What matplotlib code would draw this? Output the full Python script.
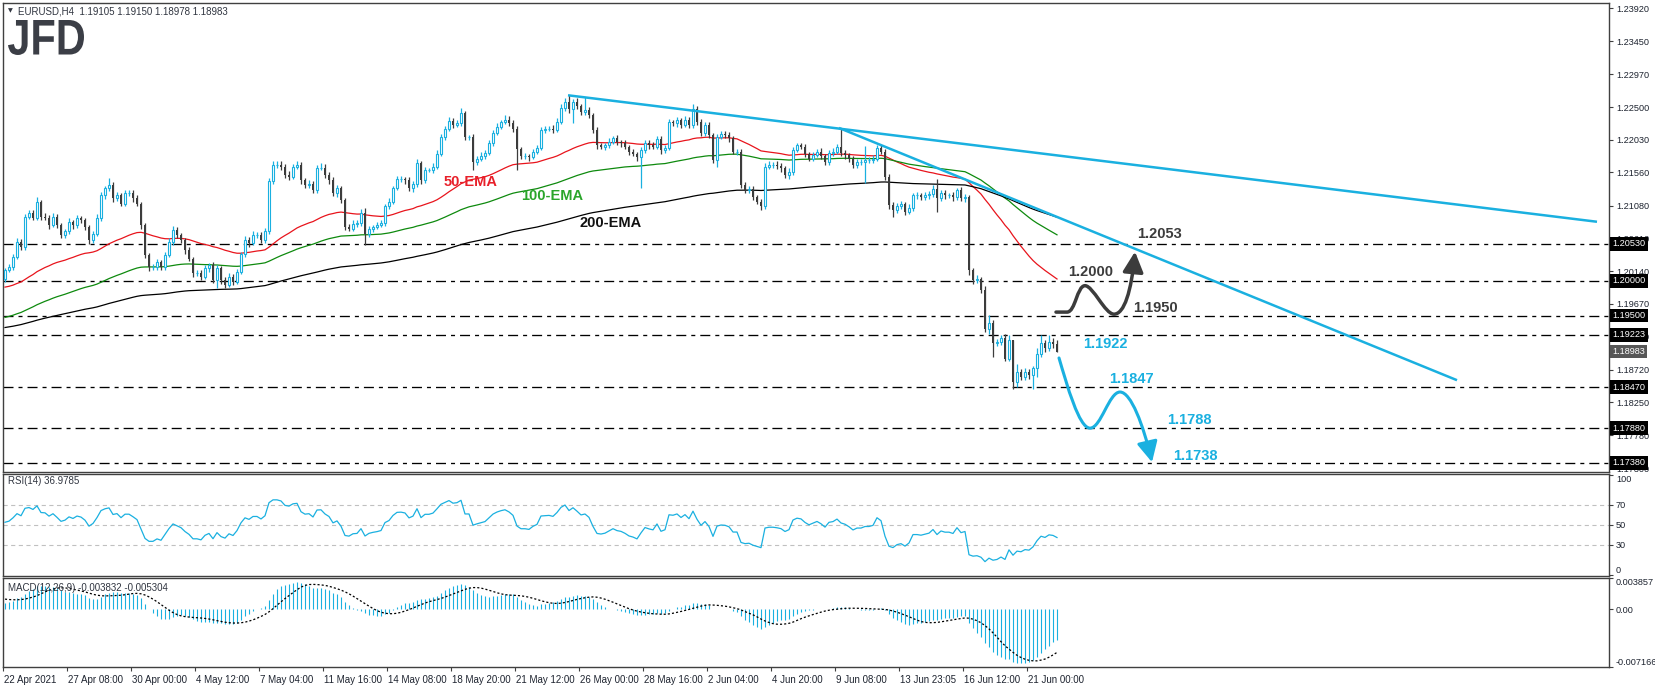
import matplotlib
matplotlib.use("Agg")
import numpy as np
import matplotlib.pyplot as plt
import matplotlib.transforms as mtransforms
from matplotlib.path import Path
from matplotlib.patches import FancyArrowPatch, PathPatch
from matplotlib.textpath import TextPath
from matplotlib.font_manager import FontProperties

plt.rcParams["font.family"] = ["Liberation Sans", "DejaVu Sans"]
plt.rcParams["lines.scale_dashes"] = False

# ---- data (EURUSD H4) ----
first_open = 1.2003
closes = [
    1.2015, 1.2020, 1.2035, 1.2056, 1.2049, 1.2092, 1.2097, 1.2091, 1.2114, 1.2092,
    1.2091, 1.2080, 1.2092, 1.2080, 1.2066, 1.2071, 1.2085, 1.2080, 1.2090, 1.2087,
    1.2078, 1.2059, 1.2068, 1.2090, 1.2123, 1.2133, 1.2138, 1.2119, 1.2123, 1.2111,
    1.2126, 1.2126, 1.2119, 1.2111, 1.2080, 1.2037, 1.2020, 1.2020, 1.2027, 1.2020,
    1.2037, 1.2056, 1.2073, 1.2066, 1.2059, 1.2044, 1.2032, 1.2011, 1.2011, 1.2006,
    1.2018, 1.2023, 1.2001, 1.2018, 1.2001, 1.1994, 1.2006, 1.1999, 1.2013, 1.2039,
    1.2059, 1.2054, 1.2066, 1.2066, 1.2059, 1.2071, 1.2143, 1.2167, 1.2167, 1.2164,
    1.2152, 1.2150, 1.2164, 1.2167, 1.2145, 1.2138, 1.2140, 1.2131, 1.2162, 1.2163,
    1.2152, 1.2145, 1.2126, 1.2133, 1.2116, 1.2078, 1.2075, 1.2082, 1.2083, 1.2097,
    1.2067, 1.2075, 1.2078, 1.2080, 1.2083, 1.2107, 1.2114, 1.2133, 1.2146, 1.2147,
    1.2145, 1.2133, 1.2139, 1.2169, 1.2145, 1.2159, 1.2159, 1.2164, 1.2183, 1.2207,
    1.2218, 1.2230, 1.2224, 1.2227, 1.2241, 1.2207, 1.2207, 1.2171, 1.2176, 1.2180,
    1.2184, 1.2198, 1.2213, 1.2222, 1.2228, 1.2232, 1.2227, 1.2219, 1.2189, 1.2180,
    1.2180, 1.2178, 1.2186, 1.2191, 1.2217, 1.2218, 1.2219, 1.2217, 1.2229, 1.2248,
    1.2258, 1.2247, 1.2258, 1.2251, 1.2243, 1.2246, 1.2239, 1.2217, 1.2195, 1.2193,
    1.2195, 1.2200, 1.2205, 1.2200, 1.2198, 1.2193, 1.2186, 1.2183, 1.2178, 1.2188,
    1.2198, 1.2195, 1.2193, 1.2204, 1.2188, 1.2191, 1.2228, 1.2227, 1.2231, 1.2224,
    1.2232, 1.2224, 1.2247, 1.2229, 1.2213, 1.2224, 1.2210, 1.2174, 1.2207, 1.2211,
    1.2210, 1.2205, 1.2186, 1.2186, 1.2138, 1.2131, 1.2132, 1.2121, 1.2114, 1.2107,
    1.2164, 1.2167, 1.2167, 1.2165, 1.2162, 1.2152, 1.2157, 1.2188, 1.2195, 1.2193,
    1.2183, 1.2176, 1.2181, 1.2186, 1.2180, 1.2171, 1.2184, 1.2186, 1.2193, 1.2184,
    1.2181, 1.2175, 1.2167, 1.2171, 1.2171, 1.2174, 1.2174, 1.2176, 1.2191, 1.2186,
    1.2150, 1.2109, 1.2102, 1.2108, 1.2110, 1.2099, 1.2105, 1.2123, 1.2123, 1.2121,
    1.2123, 1.2125, 1.2132, 1.2119, 1.2126, 1.2123, 1.2123, 1.2120, 1.2130, 1.2119,
    1.2121, 1.2015, 1.2001, 1.2002, 1.1987, 1.1930, 1.1939, 1.1910, 1.1912, 1.1918,
    1.1888, 1.1915, 1.1855, 1.1869, 1.1862, 1.1869, 1.1864, 1.1874, 1.1894, 1.1910,
    1.1903, 1.1912, 1.1909, 1.18983,
]
# wick lengths beyond the body, in pips
upper_wick = [
    3, 4, 4, 5, 4, 4, 5, 5, 6, 3,
    5, 4, 5, 4, 3, 4, 5, 3, 5, 4,
    4, 3, 4, 6, 5, 4, 10, 4, 5, 4,
    5, 4, 4, 5, 3, 3, 3, 4, 4, 3,
    4, 5, 6, 4, 3, 3, 4, 3, 5, 4,
    5, 3, 4, 5, 3, 4, 5, 4, 4, 3,
    5, 4, 5, 4, 4, 5, 5, 6, 5, 5,
    4, 6, 4, 5, 4, 3, 5, 4, 5, 6,
    5, 4, 4, 5, 4, 3, 4, 5, 4, 6,
    8, 4, 3, 4, 5, 4, 5, 4, 5, 4,
    3, 4, 5, 6, 4, 5, 4, 5, 5, 4,
    5, 6, 4, 5, 7, 4, 3, 4, 4, 5,
    4, 5, 4, 5, 4, 6, 5, 4, 4, 3,
    4, 3, 4, 5, 4, 5, 4, 5, 5, 6,
    5, 9, 4, 5, 4, 19, 4, 3, 4, 3,
    4, 5, 4, 5, 3, 4, 3, 4, 3, 4,
    5, 4, 5, 4, 5, 4, 5, 4, 5, 4,
    5, 4, 8, 5, 4, 5, 4, 3, 5, 4,
    5, 4, 3, 4, 3, 4, 5, 4, 3, 4,
    5, 5, 4, 5, 4, 3, 5, 5, 4, 4,
    4, 3, 5, 4, 5, 3, 4, 5, 4, 26,
    4, 3, 4, 5, 4, 20, 4, 5, 5, 4,
    3, 4, 5, 4, 5, 4, 5, 4, 5, 4,
    5, 4, 6, 14, 4, 5, 4, 5, 4, 5,
    4, 3, 4, 6, 4, 5, 12, 4, 5, 4,
    6, 7, 0, 12, 4, 5, 4, 4, 9, 12,
    5, 10, 6, 6,
]
lower_wick = [
    4, 3, 4, 3, 5, 4, 3, 4, 3, 5,
    4, 5, 3, 4, 5, 4, 3, 5, 4, 4,
    5, 6, 4, 3, 4, 5, 4, 5, 4, 4,
    3, 4, 5, 4, 5, 4, 6, 4, 4, 5,
    4, 3, 4, 5, 4, 5, 4, 6, 4, 5,
    4, 5, 4, 12, 5, 4, 3, 5, 4, 3,
    4, 5, 3, 4, 5, 4, 4, 3, 4, 5,
    4, 5, 4, 3, 5, 4, 4, 5, 4, 3,
    4, 5, 4, 5, 4, 5, 4, 3, 4, 4,
    16, 4, 5, 4, 3, 4, 3, 4, 3, 4,
    5, 4, 5, 4, 5, 4, 3, 4, 3, 4,
    4, 3, 4, 3, 4, 5, 4, 12, 4, 3,
    4, 3, 4, 3, 4, 3, 4, 5, 29, 5,
    4, 5, 3, 4, 3, 4, 3, 4, 3, 4,
    4, 5, 20, 4, 5, 4, 5, 4, 5, 4,
    5, 4, 3, 4, 5, 4, 5, 4, 5, 45,
    4, 5, 4, 3, 5, 4, 3, 4, 5, 4,
    3, 4, 4, 5, 4, 4, 5, 4, 10, 3,
    4, 5, 4, 5, 4, 5, 4, 5, 4, 5,
    4, 3, 4, 4, 5, 4, 5, 4, 3, 4,
    5, 4, 4, 3, 5, 4, 5, 4, 3, 4,
    5, 4, 5, 4, 5, 30, 4, 5, 4, 3,
    5, 6, 10, 4, 5, 4, 3, 4, 5, 4,
    4, 5, 4, 20, 4, 5, 4, 5, 4, 4,
    5, 6, 5, 4, 5, 4, 6, 19, 4, 5,
    4, 4, 10, 8, 5, 4, 5, 19, 12, 4,
    5, 4, 5, 0,
]

# indicator starting values as seen at the left edge of the chart
ema_seeds = {50: 1.1990, 100: 1.1946, 200: 1.1932}
macd_seed_fast, macd_seed_slow = 1.2000, 1.1993
macd_seed_hist = [0.0013] * 8
rsi_seed_gain, rsi_seed_loss = 0.0008, 0.0008

levels = [1.2053, 1.2000, 1.1950, 1.19223, 1.1847, 1.1788, 1.1738]
level_labels = ["1.20530", "1.20000", "1.19500", "1.19223", "1.18470", "1.17880", "1.17380"]
last_price = 1.18983
price_ticks = [1.23920, 1.23450, 1.22970, 1.22500, 1.22030, 1.21560, 1.21080, 1.20610,
               1.20140, 1.19670, 1.19200, 1.18720, 1.18250, 1.17780, 1.17300]
date_labels = ["22 Apr 2021", "27 Apr 08:00", "30 Apr 00:00", "4 May 12:00", "7 May 04:00",
               "11 May 16:00", "14 May 08:00", "18 May 20:00", "21 May 12:00", "26 May 00:00",
               "28 May 16:00", "2 Jun 04:00", "4 Jun 20:00", "9 Jun 08:00", "13 Jun 23:05",
               "16 Jun 12:00", "21 Jun 00:00"]

# trendlines (bar index, price)
trend_long = ([140.75, 398.0], [1.2267, 1.2085])
trend_short = ([208.5, 363.0], [1.2220, 1.1857])

BLUE = "#1ab0e0"
DARK = "#3c3c3c"
LBL = 6.6

close = np.array(closes)
n = len(close)
opens = np.r_[first_open, close[:-1]]
high = np.maximum(opens, close) + np.array(upper_wick) * 0.0001
low = np.minimum(opens, close) - np.array(lower_wick) * 0.0001
x = np.arange(n)


def ema(vals, period, seed):
    k = 2.0 / (period + 1)
    out, e = [], seed
    for v in vals:
        e = e + k * (v - e)
        out.append(e)
    return np.array(out)


ema50 = ema(close, 50, ema_seeds[50])
ema100 = ema(close, 100, ema_seeds[100])
ema200 = ema(close, 200, ema_seeds[200])

macd = ema(close, 12, macd_seed_fast) - ema(close, 26, macd_seed_slow)
hist_all = np.r_[macd_seed_hist, macd]
signal = np.array([hist_all[i:i + 9].mean() for i in range(n)])

diff = np.diff(np.r_[first_open, close])
g, l = rsi_seed_gain, rsi_seed_loss
rsi = []
for d in diff:
    g = (g * 13 + max(d, 0)) / 14
    l = (l * 13 + max(-d, 0)) / 14
    rsi.append(100 - 100 / (1 + g / l))
rsi = np.array(rsi)

# ---- figure ----
W, H = 1655, 687
fig = plt.figure(figsize=(W / 100, H / 100), dpi=100)
fig.patch.set_facecolor("white")


def px_axes(x0, y0, x1, y1):
    return fig.add_axes([x0 / W, 1 - y1 / H, (x1 - x0) / W, (y1 - y0) / H])


ax = px_axes(3, 3, 1609, 472)
ax_rsi = px_axes(3, 474, 1609, 576)
ax_macd = px_axes(3, 578, 1609, 667)

for a in (ax, ax_rsi, ax_macd):
    a.set_xlim(-0.5, 401)
    for s in a.spines.values():
        s.set_color("#404040")
        s.set_linewidth(1)
    a.tick_params(axis="y", left=False, labelleft=False, right=True, labelright=True,
                  length=3, width=0.8, pad=2, labelsize=LBL, labelcolor="#1e2430", color="#404040")
    a.tick_params(axis="x", bottom=False, labelbottom=False)

# main panel
ax.set_ylim(1.17249, 1.23998)
ax.set_yticks(price_ticks)
ax.set_yticklabels([f"{t:.5f}" for t in price_ticks])

bull = close >= opens
ax.vlines(x[bull], low[bull], high[bull], color=BLUE, lw=0.9, zorder=3)
ax.vlines(x[~bull], low[~bull], high[~bull], color=DARK, lw=0.9, zorder=3)
ax.bar(x[bull], (close - opens)[bull], bottom=opens[bull], width=0.5,
       facecolor="white", edgecolor=BLUE, linewidth=0.8, zorder=4)
ax.bar(x[~bull], (opens - close)[~bull], bottom=close[~bull], width=0.72,
       color=DARK, linewidth=0, zorder=4)

ax.plot(x, ema50, color="#e8141c", lw=0.9, zorder=2)
ax.plot(x, ema100, color="#0e8a0e", lw=0.9, zorder=2)
ax.plot(x, ema200, color="black", lw=0.9, zorder=2)

for lv in levels:
    ax.axhline(lv, color="black", lw=0.95, linestyle=(0, (7.2, 3.6, 2.9, 3.6)), zorder=1)

ax.plot(*trend_long, color=BLUE, lw=1.8, zorder=5, solid_capstyle="butt")
ax.plot(*trend_short, color=BLUE, lw=1.8, zorder=5, solid_capstyle="butt")

ytr = mtransforms.blended_transform_factory(ax.transAxes, ax.transData)
for lv, lab in zip(levels, level_labels):
    ax.text(1.0021, lv, lab, transform=ytr, ha="left", va="center", fontsize=LBL, color="white",
            bbox=dict(boxstyle="square,pad=0.25", fc="black", ec="none"), zorder=10, clip_on=False)
ax.text(1.0021, last_price, f"{last_price:.5f}", transform=ytr, ha="left", va="center",
        fontsize=LBL, color="white", bbox=dict(boxstyle="square,pad=0.25", fc="#575757", ec="none"),
        zorder=10, clip_on=False)

# EMA labels
bold = dict(fontsize=10.5, fontweight="bold", ha="center", va="center", zorder=8)
ax.text(116.5, 1.2142, "50-EMA", color="#e8202a", **bold)
ax.text(136.75, 1.2122, "100-EMA", color="#2aa52a", **bold)
ax.text(151.5, 1.2083, "200-EMA", color="#111111", **bold)

# scenario annotations
ax.text(288.75, 1.2067, "1.2053", color="#3c3c3c", **bold)
ax.text(271.5, 1.2013, "1.2000", color="#3c3c3c", **bold)
ax.text(287.5, 1.1961, "1.1950", color="#3c3c3c", **bold)
ax.text(275.0, 1.1909, "1.1922", color=BLUE, **bold)
ax.text(281.5, 1.1859, "1.1847", color=BLUE, **bold)
ax.text(296.0, 1.1800, "1.1788", color=BLUE, **bold)
ax.text(297.5, 1.1748, "1.1738", color=BLUE, **bold)

up_path = Path(
    [(262.75, 1.1955), (265.5, 1.1955),
     (267.6, 1.1955), (268.0, 1.1993), (270.0, 1.1993),
     (272.0, 1.1993), (275.0, 1.1952), (277.25, 1.1952),
     (279.8, 1.1952), (281.6, 1.1985), (282.5, 1.2042)],
    [Path.MOVETO, Path.LINETO] + [Path.CURVE4] * 9)
ax.add_patch(FancyArrowPatch(path=up_path, arrowstyle="-|>,head_length=0.95,head_width=0.48",
                             mutation_scale=13, color="#3c3c3c", lw=2.5, zorder=9))

down_path = Path(
    [(263.5, 1.1889),
     (265.5, 1.1850), (268.5, 1.1788), (271.25, 1.1788),
     (274.0, 1.1788), (276.0, 1.1840), (278.75, 1.1840),
     (281.5, 1.1840), (284.6, 1.1792), (286.75, 1.1739)],
    [Path.MOVETO] + [Path.CURVE4] * 9)
ax.add_patch(FancyArrowPatch(path=down_path, arrowstyle="-|>,head_length=0.95,head_width=0.48",
                             mutation_scale=13, color=BLUE, lw=2.2, zorder=9))

# RSI panel
ax_rsi.set_ylim(-1, 101)
ax_rsi.set_yticks([0, 30, 50, 70, 100])
ax_rsi.set_yticklabels(["0", "30", "50", "70", "100"])
labs = ax_rsi.get_yticklabels()
labs[0].set_verticalalignment("bottom")
labs[-1].set_verticalalignment("top")
for lv in (30, 50, 70):
    ax_rsi.axhline(lv, color="#c0c0c0", lw=0.8, linestyle=(0, (3, 2.5)), zorder=1)
ax_rsi.plot(x, rsi, color=BLUE, lw=0.9, zorder=3)
ax_rsi.text(0.003, 0.93, "RSI(14) 36.9785", transform=ax_rsi.transAxes, fontsize=7,
            color="#303540", ha="left", va="center")

# MACD panel
ax_macd.set_ylim(-0.007166, 0.003857)
ax_macd.set_yticks([-0.007166, 0.0, 0.003857])
ax_macd.set_yticklabels(["-0.007166", "0.00", "0.003857"])
labs = ax_macd.get_yticklabels()
labs[0].set_verticalalignment("bottom")
labs[-1].set_verticalalignment("top")
ax_macd.vlines(x, 0, macd, color=BLUE, lw=0.8, zorder=2)
ax_macd.plot(x, signal, color="black", lw=0.9, linestyle=(0, (1.5, 1.5)), zorder=3)
ax_macd.text(0.003, 0.89, "MACD(12,26,9) -0.003832 -0.005304", transform=ax_macd.transAxes,
             fontsize=7, color="#303540", ha="left", va="center")

ax_macd.tick_params(axis="x", bottom=True, labelbottom=True, length=3, width=0.8,
                    pad=3, labelsize=7, labelcolor="#1e2430", color="#404040")
ax_macd.set_xticks([16 * k - 0.5 for k in range(len(date_labels))])
ax_macd.set_xticklabels(date_labels, ha="left")
shift = mtransforms.ScaledTranslation(1 / 100, 0, fig.dpi_scale_trans)
for t in ax_macd.get_xticklabels():
    t.set_transform(t.get_transform() + shift)

# header text and logo
fig.text(8 / W, 1 - 11 / H, "\u25bc", fontsize=4.5, color="#303540", ha="left", va="center",
         family="DejaVu Sans")
fig.text(18 / W, 1 - 11 / H, "EURUSD,H4  1.19105 1.19150 1.18978 1.18983", fontsize=7,
         color="#303540", ha="left", va="center")

tp = TextPath((0, 0), "JFD", size=100, prop=FontProperties(family="Liberation Sans", weight="bold"))
ext = tp.get_extents()
sx = 76 / ext.width
sy = 35 / ext.height
logo_tr = mtransforms.Affine2D().translate(-ext.x0, -ext.y0).scale(sx, sy).translate(8, H - 55)
fig.add_artist(PathPatch(tp, transform=logo_tr, fc="#3b3e46", ec="none"))

fig.savefig("out.png", dpi=100)
